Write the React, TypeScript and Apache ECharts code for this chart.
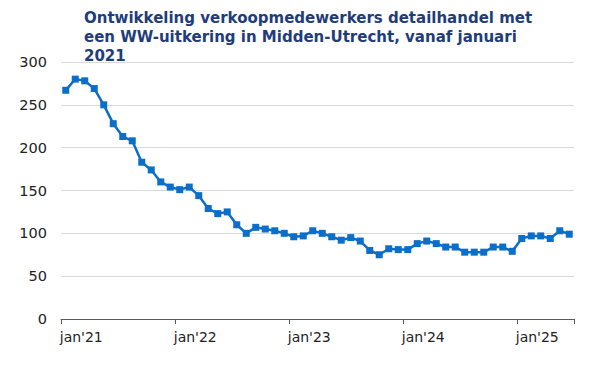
import React, { useEffect, useRef } from "react";
import * as echarts from "echarts";

const months = ["jan", "feb", "mrt", "apr", "mei", "jun", "jul", "aug", "sep", "okt", "nov", "dec"];
const years = ["21", "22", "23", "24", "25"];
const categories: string[] = [];
years.forEach((y) => months.forEach((m) => categories.push(m + "'" + y)));
const monthCategories = categories.slice(0, 54); // jan'21 .. jun'25

const values = [
  267, 280, 278, 269, 250, 228, 213, 208, 183, 174, 160, 154,
  151, 154, 144, 129, 123, 125, 110, 100, 107, 105, 103, 100,
  96, 97, 103, 100, 96, 92, 95, 91, 80, 75, 82, 81,
  81, 88, 91, 88, 84, 84, 78, 78, 78, 84, 84, 79,
  94, 97, 97, 94, 103, 99,
];

const yTicks = [0, 50, 100, 150, 200, 250, 300];

const titleText =
  "Ontwikkeling verkoopmedewerkers detailhandel met\neen WW-uitkering in Midden-Utrecht, vanaf januari\n2021";

export default function App() {
  const ref = useRef<HTMLDivElement>(null);
  useEffect(() => {
    if (!ref.current) return;
    const chart = echarts.init(ref.current, null, { renderer: "svg" });
    chart.setOption({
      animation: false,
      backgroundColor: "#ffffff",
      title: {
        text: titleText,
        left: 79,
        top: 3,
        textStyle: {
          fontFamily: "DejaVu Sans",
          fontWeight: "bold",
          fontSize: 15,
          lineHeight: 19,
          color: "#1f3c7b",
        },
      },
      grid: { left: 61, right: 26, top: 62, bottom: 48 },
      xAxis: {
        type: "category",
        data: monthCategories,
        boundaryGap: true,
        axisLine: { lineStyle: { color: "#595959", width: 1 } },
        axisTick: { show: true, interval: 11, length: 5, lineStyle: { color: "#595959" } },
        axisLabel: {
          interval: 11,
          align: "left",
          margin: 11,
          fontFamily: "DejaVu Sans",
          fontSize: 14,
          color: "#222222",
          padding: [0, 0, 0, -6],
        },
        splitLine: { show: false },
      },
      yAxis: {
        type: "value",
        min: yTicks[0],
        max: yTicks[yTicks.length - 1],
        interval: 50,
        axisLine: { show: false },
        axisTick: { show: false },
        axisLabel: {
          margin: 14,
          fontFamily: "DejaVu Sans",
          fontSize: 14.5,
          color: "#222222",
        },
        splitLine: { lineStyle: { color: "#d9d9d9", width: 1 } },
      },
      series: [
        {
          type: "line",
          data: values,
          symbol: "rect",
          symbolSize: 7,
          showSymbol: true,
          showAllSymbol: true,
          lineStyle: { color: "#0b6fca", width: 2.5 },
          itemStyle: { color: "#0b6fca" },
        },
      ],
    });
    return () => chart.dispose();
  }, []);
  return <div ref={ref} style={{ width: 600, height: 367, position: "absolute", left: 0, top: 0 }} />;
}
